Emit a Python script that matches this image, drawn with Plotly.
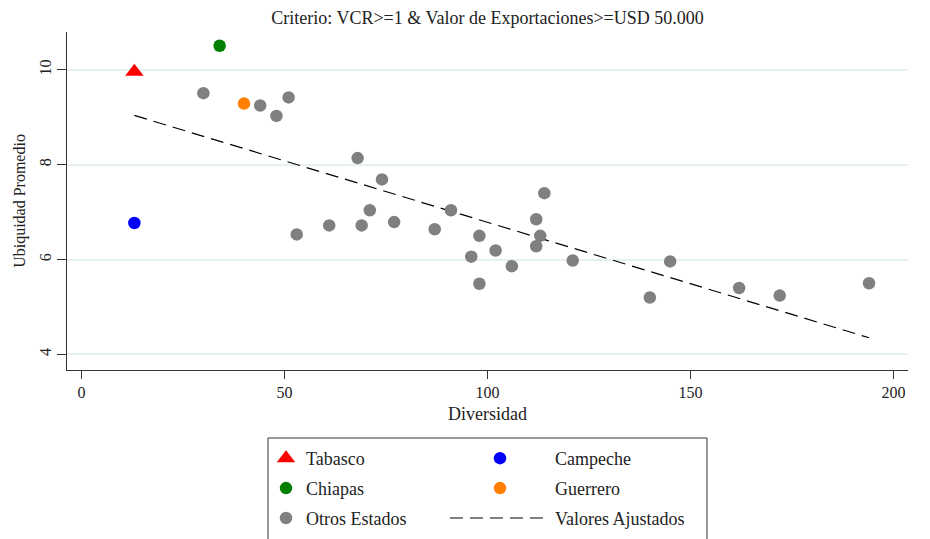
import plotly.graph_objects as go

# ---- data ----
tabasco_x = [13]
tabasco_y = [9.96]
campeche_x = [13]
campeche_y = [6.77]
chiapas_x = [34]
chiapas_y = [10.51]
guerrero_x = [40]
guerrero_y = [9.29]
otros_x = [30, 44, 48, 51, 53, 61, 68, 69, 71, 74, 77, 87, 91, 96, 98, 98,
           102, 106, 112, 112, 113, 114, 121, 140, 145, 162, 172, 194]
otros_y = [9.51, 9.25, 9.03, 9.42, 6.53, 6.72, 8.14, 6.72, 7.04, 7.69, 6.79,
           6.64, 7.04, 6.06, 6.50, 5.49, 6.19, 5.86, 6.85, 6.28, 6.50, 7.40,
           5.98, 5.20, 5.96, 5.40, 5.24, 5.50]
ajuste_x = [13, 194]
ajuste_y = [9.04, 4.35]

x_ticks = [0, 50, 100, 150, 200]
y_ticks = [4, 6, 8, 10]

title_text = "Criterio: VCR>=1 & Valor de Exportaciones>=USD 50.000"
FONT = "Liberation Serif, serif"

fig = go.Figure()

fig.add_trace(go.Scatter(x=ajuste_x, y=ajuste_y, mode="lines", name="Valores Ajustados",
                         line=dict(color="black", width=1.2, dash="13px,7px"),
                         legend="legend2", legendgroup="f", legendrank=3))
fig.add_trace(go.Scatter(x=otros_x, y=otros_y, mode="markers", name="Otros Estados",
                         marker=dict(color="#808080", size=12.5),
                         legend="legend", legendgroup="o", legendrank=3))
fig.add_trace(go.Scatter(x=guerrero_x, y=guerrero_y, mode="markers", name="Guerrero",
                         marker=dict(color="#ff7f00", size=12.5),
                         legend="legend2", legendgroup="g", legendrank=2))
fig.add_trace(go.Scatter(x=chiapas_x, y=chiapas_y, mode="markers", name="Chiapas",
                         marker=dict(color="#007f00", size=12.5),
                         legend="legend", legendgroup="c", legendrank=2))
fig.add_trace(go.Scatter(x=campeche_x, y=campeche_y, mode="markers", name="Campeche",
                         marker=dict(color="#0000ff", size=12.5),
                         legend="legend2", legendgroup="p", legendrank=1))
fig.add_trace(go.Scatter(x=tabasco_x, y=tabasco_y, mode="markers", name="Tabasco",
                         marker=dict(color="#ff0000", size=16, symbol="triangle-up"),
                         legend="legend", legendgroup="t", legendrank=1))

legend_common = dict(
    font=dict(family=FONT, size=18, color="#222"),
    bgcolor="rgba(0,0,0,0)", borderwidth=0,
    traceorder="grouped", tracegroupgap=3.5,
    yanchor="top", xanchor="left", orientation="v",
)

# page offset (body margin) compensation
OFF = 8
W, H = 930 - OFF, 539 - OFF
PL, PR, PT, PB = 67 - OFF, 908 - OFF, 32 - OFF, 370 - OFF
PW, PH = PR - PL, PB - PT


def px_x(p):
    return (p - OFF - PL) / PW


def px_y(p):
    return (PB - (p - OFF)) / PH


fig.update_layout(
    width=W, height=H,
    margin=dict(l=PL, r=W - PR, t=PT, b=H - PB, autoexpand=False),
    paper_bgcolor="white", plot_bgcolor="white",
    font=dict(family=FONT, size=16, color="#222"),
    title=dict(text=title_text, x=0.5, xref="paper", y=1 - 3 / H, yref="container",
               yanchor="top", pad=dict(t=0, b=0),
               font=dict(family=FONT, size=18, color="#222")),
    xaxis=dict(range=[-3.6, 203.6], tickvals=x_ticks, ticks="outside", ticklen=8,
               tickcolor="#333", showline=True, linecolor="#333", linewidth=1,
               showgrid=False, zeroline=False, automargin=False,
               title=dict(text="Diversidad", standoff=7, font=dict(family=FONT, size=18)),
               tickfont=dict(family=FONT, size=16)),
    yaxis=dict(range=[3.67, 10.8], tickvals=y_ticks, ticks="outside", ticklen=9,
               tickcolor="#333", showline=True, linecolor="#333", linewidth=1,
               showgrid=True, gridcolor="#e6eff1", gridwidth=2, zeroline=False,
               tickangle=-90, automargin=False,
               title=dict(text="Ubiquidad Promedio", standoff=6, font=dict(family=FONT, size=16)),
               tickfont=dict(family=FONT, size=16)),
    legend=dict(x=px_x(266), y=px_y(440), **legend_common),
    legend2=dict(x=px_x(445), y=px_y(440), itemwidth=100, **legend_common),
    shapes=[dict(type="rect", xref="paper", yref="paper",
                 x0=px_x(268), x1=px_x(707),
                 y0=px_y(560), y1=px_y(438),
                 line=dict(color="#333", width=1), fillcolor="rgba(0,0,0,0)")],
)

fig.write_html("out.html")
